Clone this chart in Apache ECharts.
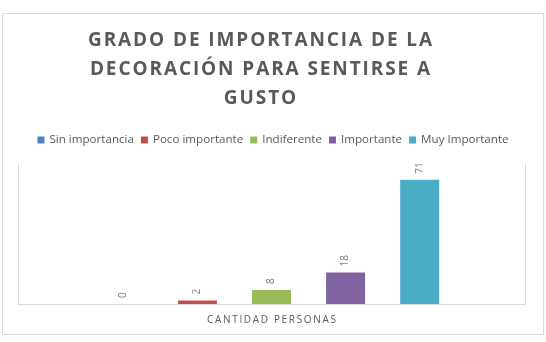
<!DOCTYPE html>
<html>
<head>
<meta charset="utf-8">
<script src="https://cdn.jsdelivr.net/npm/echarts@6/dist/echarts.min.js"></script>
<style>
  html, body { margin: 0; padding: 0; background: #fff; }
  #main { width: 546px; height: 342px; }
</style>
</head>
<body>
<div id="main"></div>
<script>
const titleLines = ['GRADO DE IMPORTANCIA DE LA', 'DECORACIÓN PARA SENTIRSE A', 'GUSTO'];
const categories = ['CANTIDAD PERSONAS'];
const seriesNames = ['Sin importancia', 'Poco importante', 'Indiferente', 'Importante', 'Muy Importante'];
const seriesValues = [0, 2, 8, 18, 71];
const colors = ['#4f81bd', '#c0504d', '#9bbb59', '#8064a2', '#4bacc6'];

// spread letters a little, like the tracked text of the original
function spaced(s, sp) {
    return s.split('').join(sp);
}

window.addEventListener('load', function () {
    let chart = echarts.init(document.getElementById('main'));

    let series = [];
    for (let i = 0; i < seriesNames.length; i++) {
        series.push({
            name: seriesNames[i],
            type: 'bar',
            data: [seriesValues[i]],
            barWidth: 39,
            barGap: '90%',
            itemStyle: { color: colors[i] },
            label: {
                show: true,
                position: 'top',
                rotate: 90,
                align: 'left',
                verticalAlign: 'middle',
                distance: 6,
                color: '#7f7f7f',
                fontSize: 10,
                fontFamily: 'Open Sans'
            }
        });
    }

    let option = {
        animation: false,
        backgroundColor: '#fff',
        color: colors,
        title: {
            text: titleLines.map(l => spaced(l, '\u200A')).join('\n'),
            left: 255,
            top: 21,
            textAlign: 'center',
            textStyle: {
                color: '#595959',
                fontFamily: 'Open Sans',
                fontWeight: 'bold',
                fontSize: 19,
                lineHeight: 29
            }
        },
        legend: {
            top: 129,
            left: 'center',
            itemWidth: 7,
            itemHeight: 7,
            itemGap: 7,
            icon: 'rect',
            textStyle: { color: '#595959', fontSize: 11.6, fontFamily: 'Open Sans' },
            data: seriesNames
        },
        grid: { left: 18, right: 21, top: 164, bottom: 38 },
        xAxis: {
            type: 'category',
            data: categories,
            axisLine: { lineStyle: { color: '#d9d9d9' } },
            axisTick: { show: false },
            axisLabel: {
                color: '#595959', fontSize: 10, fontFamily: 'Open Sans', margin: 11,
                formatter: v => spaced(v, '\u2009')
            }
        },
        yAxis: [
            {
                type: 'value', min: 0, max: 80,
                axisLine: { show: true, lineStyle: { color: '#d9d9d9' } },
                axisLabel: { show: false }, axisTick: { show: false }, splitLine: { show: false }
            },
            {
                type: 'value', min: 0, max: 80, position: 'right',
                axisLine: { show: true, lineStyle: { color: '#d9d9d9' } },
                axisLabel: { show: false }, axisTick: { show: false }, splitLine: { show: false }
            }
        ],
        graphic: [{
            type: 'rect',
            shape: { x: 2.5, y: 13.5, width: 541, height: 321 },
            style: { fill: 'none', stroke: '#d9d9d9', lineWidth: 1 }
        }],
        series
    };
    chart.setOption(option);
});
</script>
</body>
</html>
